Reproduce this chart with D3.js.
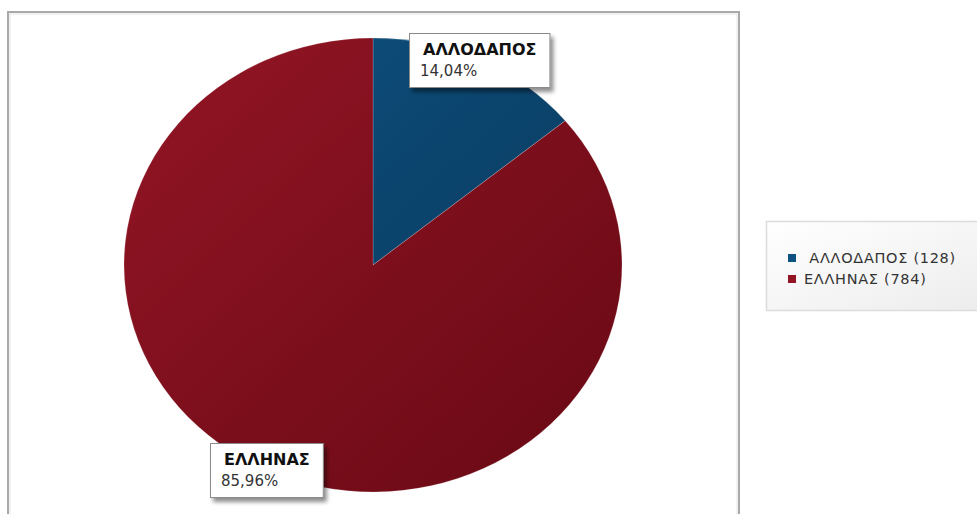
<!DOCTYPE html>
<html>
<head>
<meta charset="utf-8">
<script src="https://cdn.jsdelivr.net/npm/d3@7"></script>
<style>
  html, body { margin: 0; padding: 0; background: #fff; }
  svg { display: block; font-family: "DejaVu Sans", "Open Sans", sans-serif; }
</style>
</head>
<body>
<svg id="chart" width="977" height="514"></svg>
<script>
// Nationality breakdown
const categories = ["ΑΛΛΟΔΑΠΟΣ", "ΕΛΛΗΝΑΣ"];
const counts = [128, 784];
const percentLabels = ["14,04%", "85,96%"];
const sliceColors = [
  { light: "#0f5282", dark: "#063455" },
  { light: "#931525", dark: "#680914" }
];

const svg = d3.select("#chart");

// Plot frame
svg.append("rect")
  .attr("x", 8).attr("y", 12).attr("width", 731).attr("height", 620)
  .attr("fill", "none").attr("stroke", "#a9a9a9").attr("stroke-width", 2);
svg.append("rect")
  .attr("x", 10).attr("y", 14).attr("width", 727).attr("height", 620)
  .attr("fill", "none").attr("stroke", "#e4e4e4").attr("stroke-width", 1);

const defs = svg.append("defs");
sliceColors.forEach((c, i) => {
  const g = defs.append("linearGradient")
    .attr("id", "grad" + i)
    .attr("gradientUnits", "userSpaceOnUse")
    .attr("x1", -249).attr("y1", -249).attr("x2", 249).attr("y2", 249);
  g.append("stop").attr("offset", "0%").attr("stop-color", c.light);
  g.append("stop").attr("offset", "100%").attr("stop-color", c.dark);
});
const shadow = defs.append("filter").attr("id", "boxShadow")
  .attr("x", "-20%").attr("y", "-20%").attr("width", "150%").attr("height", "160%");
shadow.append("feGaussianBlur").attr("in", "SourceAlpha").attr("stdDeviation", 2.2);
shadow.append("feOffset").attr("dx", 3).attr("dy", 4).attr("result", "off");
shadow.append("feComponentTransfer").append("feFuncA").attr("type", "linear").attr("slope", 0.45);
const merge = shadow.append("feMerge");
merge.append("feMergeNode");
merge.append("feMergeNode").attr("in", "SourceGraphic");

// Pie geometry (slightly flattened vertically)
const cx = 373, cy = 265, rx = 249, ry = 227;
const pie = d3.pie().sort(null).value(d => d);
const arcs = pie(counts);
const arc = d3.arc().innerRadius(0).outerRadius(rx);

const pieG = svg.append("g")
  .attr("transform", `translate(${cx},${cy}) scale(1,${ry / rx})`);
pieG.selectAll("path")
  .data(arcs)
  .join("path")
  .attr("d", arc)
  .attr("fill", (d, i) => `url(#grad${i})`)
  .attr("stroke", "rgba(255,255,255,0.25)")
  .attr("stroke-width", 0.8);

// Callout boxes centred on the rim at each slice's mid-angle
const labelG = svg.append("g");
arcs.forEach((d, i) => {
  const mid = (d.startAngle + d.endAngle) / 2;
  const px = cx + rx * Math.sin(mid);
  const py = cy - ry * Math.cos(mid);
  const g = labelG.append("g");
  const rect = g.append("rect").attr("fill", "#fff")
    .attr("stroke", "#8a8a8a").attr("stroke-width", 1)
    .attr("filter", "url(#boxShadow)");
  const t1 = g.append("text").text(categories[i])
    .attr("font-size", 16).attr("font-weight", "bold").attr("fill", "#111");
  const t2 = g.append("text").text(percentLabels[i])
    .attr("font-size", 15).attr("fill", "#333");
  const w = Math.max(t1.node().getComputedTextLength(), t2.node().getComputedTextLength()) + 27;
  const h = 54;
  const x0 = Math.round(px - w / 2), y0 = Math.round(py - h / 2);
  rect.attr("x", x0 + 0.5).attr("y", y0 + 0.5).attr("width", w).attr("height", h);
  t1.attr("x", x0 + 14).attr("y", y0 + 22);
  t2.attr("x", x0 + 11).attr("y", y0 + 43);
});

// Legend
const lgGrad = defs.append("linearGradient").attr("id", "legendBg")
  .attr("x1", "0%").attr("y1", "0%").attr("x2", "100%").attr("y2", "100%");
lgGrad.append("stop").attr("offset", "0%").attr("stop-color", "#ffffff");
lgGrad.append("stop").attr("offset", "100%").attr("stop-color", "#ececec");
svg.append("rect")
  .attr("x", 766.5).attr("y", 221.5).attr("width", 230).attr("height", 89)
  .attr("fill", "url(#legendBg)").attr("stroke", "#dcdcdc").attr("stroke-width", 1.5);

const legendLabels = categories.map((c, i) => (i === 0 ? " " : "") + `${c} (${counts[i]})`);
const lg = svg.append("g");
legendLabels.forEach((lab, i) => {
  const y = 254 + i * 21;
  lg.append("rect").attr("x", 788).attr("y", y).attr("width", 8).attr("height", 8)
    .attr("fill", sliceColors[i].light);
  lg.append("text").attr("x", 804).attr("y", y + 9)
    .attr("font-size", 14.5).attr("letter-spacing", 0.7).attr("fill", "#333")
    .attr("xml:space", "preserve").style("white-space", "pre")
    .text(lab);
});
</script>
</body>
</html>
